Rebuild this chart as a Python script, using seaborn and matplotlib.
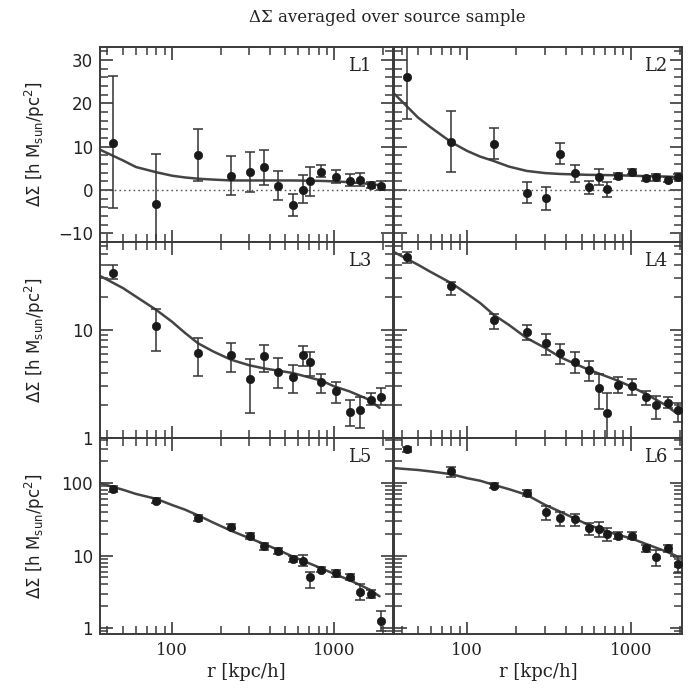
import numpy as np
import pandas as pd
import matplotlib
matplotlib.use("Agg")
import matplotlib.pyplot as plt
import seaborn as sns
from matplotlib.ticker import LogLocator, MultipleLocator, FuncFormatter, NullFormatter

# ---------------- data ----------------
radii = [43, 80, 145, 231, 303, 371, 453, 553, 641, 711, 832, 1024, 1244, 1433, 1692, 1950]

y_L1 = [10.8, -3.2, 8.0, 3.3, 4.2, 5.2, 1.0, -3.4, 0.1, 2.1, 4.1, 3.1, 2.0, 2.2, 1.2, 1.0]
hi_L1 = [26.4, 8.3, 14.0, 7.9, 8.8, 9.3, 4.3, -0.9, 3.4, 5.2, 5.7, 4.7, 3.7, 3.9, 1.8, 2.1]
lo_L1 = [-4.2, -14.7, 2.1, -1.15, -0.4, 1.2, -2.3, -5.9, -3.1, -1.3, 2.9, 1.6, 1.0, 1.0, 0.4, 0.1]

y_L2 = [26.1, 11.1, 10.7, -0.7, -1.9, 8.4, 3.9, 0.8, 3.1, 0.2, 3.3, 4.2, 2.7, 2.9, 2.4, 3.1]
hi_L2 = [35.9, 18.2, 14.4, 1.9, 0.8, 10.8, 5.8, 2.1, 4.8, 1.9, 4.0, 4.8, 3.3, 3.7, 2.9, 3.6]
lo_L2 = [16.3, 4.1, 7.1, -3.1, -4.6, 6.0, 1.8, -0.9, 1.2, -1.5, 2.6, 3.6, 2.1, 2.1, 1.9, 2.6]

y_L3 = [33.5, 10.9, 6.1, 5.9, 3.5, 5.7, 4.1, 3.7, 5.9, 5.0, 3.3, 2.7, 1.75, 1.8, 2.25, 2.4]
hi_L3 = [40, 15.5, 8.4, 7.5, 5.4, 7.2, 5.5, 4.7, 7.1, 6.2, 3.9, 3.3, 2.25, 2.4, 2.6, 2.9]
lo_L3 = [29.5, 6.4, 3.75, 4.1, 1.7, 4.1, 2.9, 2.6, 4.6, 3.75, 2.6, 2.1, 1.3, 1.23, 2.0, 2.0]

y_L4 = [47, 25.2, 12.4, 9.5, 7.5, 6.1, 5.1, 4.3, 2.9, 1.7, 3.1, 3.0, 2.4, 2.0, 2.1, 1.8]
hi_L4 = [52, 28, 14.1, 11.1, 9.2, 7.4, 6.2, 5.2, 3.9, 2.6, 3.7, 3.5, 2.7, 2.45, 2.4, 2.1]
lo_L4 = [42, 20.8, 10.2, 8.0, 5.9, 4.8, 4.0, 3.4, 1.86, 0.8, 2.6, 2.5, 2.0, 1.5, 1.9, 1.4]

y_L5 = [83, 57.5, 32.9, 25.2, 18.8, 13.4, 11.6, 9.0, 8.5, 5.05, 6.4, 5.7, 5.15, 3.2, 2.97, 1.26]
hi_L5 = [92, 62, 36, 27.5, 20.8, 14.9, 12.9, 10.0, 10.3, 6.0, 6.9, 6.3, 5.65, 4.0, 3.35, 1.75]
lo_L5 = [75, 53, 30, 23, 17, 12, 10.4, 8.1, 7.1, 3.6, 5.9, 5.1, 4.65, 2.45, 2.6, 0.9]

y_L6 = [294, 145, 92.7, 72.8, 39.8, 33.6, 31.9, 23.9, 23.4, 19.8, 18.9, 18.8, 12.7, 9.7, 12.7, 7.7]
hi_L6 = [320, 169, 101, 80, 48.6, 40.6, 37.7, 28.6, 29.5, 24, 21, 20.9, 14.2, 12.0, 14.0, 9.7]
lo_L6 = [270, 123, 85, 66, 31.2, 25.8, 25.8, 19.4, 18.3, 16.1, 16.9, 16.8, 11.3, 7.2, 11.4, 5.8]

model_r = [36, 50, 60, 80, 100, 120, 145, 180, 231, 300, 370, 450, 550, 830, 1000, 1240, 1650, 1900]
model_L1 = [9.3, 6.8, 5.3, 4.1, 3.3, 2.9, 2.6, 2.4, 2.2, 2.2, 2.2, 2.2, 2.2, 2.1, 2.0, 1.8, 1.4, 1.1]
model_L2 = [22.1, 16.7, 14.4, 11.0, 9.0, 7.7, 6.7, 5.4, 4.4, 3.9, 3.7, 3.6, 3.5, 3.4, 3.3, 3.2, 3.1, 3.0]
model_L3 = [31.6, 24.3, 20.3, 15.3, 11.9, 9.4, 7.5, 6.3, 5.3, 4.7, 4.4, 4.2, 4.0, 3.4, 3.0, 2.7, 2.25, 1.9]
model_L4 = [52, 40, 34.2, 27, 21.5, 17.7, 13.8, 11.1, 8.4, 6.8, 5.6, 4.9, 4.3, 3.4, 3.0, 2.55, 2.0, 1.7]
model_L5 = [100, 81, 71, 60.7, 50, 43.2, 35.9, 28.5, 22.1, 17.4, 14.5, 12.0, 9.8, 6.7, 5.6, 4.6, 3.4, 2.75]
model_L6 = [161, 152, 145, 133, 117, 108, 94.8, 82.6, 69, 50, 40.5, 32.9, 26.6, 19.4, 17.4, 14.5, 11.4, 9.9]

panel_names = ["L1", "L2", "L3", "L4", "L5", "L6"]
title_text = "ΔΣ averaged over source sample"
ylabel_text = r"ΔΣ [h M$_{\rm sun}$/pc$^2$]"
xlabel_text = "r [kpc/h]"

# ---------------- style ----------------
sns.set_theme(style="ticks")
plt.rcParams["font.family"] = ["DejaVu Sans"]
plt.rcParams["mathtext.default"] = "regular"
AX = "#3a3a3a"
INK = "#1a1a1a"

fig = plt.figure(figsize=(6.91, 6.88), dpi=100)
W, H = 691.0, 688.0

cols = [(100, 393, (36, 2300)), (394, 682, (35.6, 2060))]
rows = [(47, 242), (242, 438), (438, 634)]

panels = [
    (y_L1, lo_L1, hi_L1, model_L1),
    (y_L2, lo_L2, hi_L2, model_L2),
    (y_L3, lo_L3, hi_L3, model_L3),
    (y_L4, lo_L4, hi_L4, model_L4),
    (y_L5, lo_L5, hi_L5, model_L5),
    (y_L6, lo_L6, hi_L6, model_L6),
]

serif = "DejaVu Serif"

for i, (yv, lo, hi, mod) in enumerate(panels):
    r_i, c_i = divmod(i, 2)
    x0, x1, xlim = cols[c_i]
    ytop, ybot = rows[r_i]
    ax = fig.add_axes([x0 / W, 1 - ybot / H, (x1 - x0) / W, (ybot - ytop) / H])
    ax.set_xscale("log")
    if r_i > 0:
        ax.set_yscale("log")

    yv = np.array(yv, float)
    lo = np.array(lo, float)
    hi = np.array(hi, float)
    df = pd.DataFrame({"r": radii, "y": yv})
    mdf = pd.DataFrame({"r": model_r, "m": mod})

    if r_i == 0:
        ax.axhline(0, color="#555555", lw=1.0, ls=(0, (1.2, 2.2)), zorder=1)

    sns.lineplot(data=mdf, x="r", y="m", ax=ax, color="#444444", lw=1.8, zorder=2)
    ax.errorbar(df["r"], df["y"], yerr=[yv - lo, hi - yv], fmt="none",
                ecolor="#333333", elinewidth=1.1, capsize=3.5, capthick=1.1, zorder=3)
    sns.scatterplot(data=df, x="r", y="y", ax=ax, color=INK, s=36,
                    edgecolor=INK, linewidth=0.5, zorder=4)

    ax.set_xlim(*xlim)
    if r_i == 0:
        ax.set_ylim(-12, 33)
        ax.yaxis.set_major_locator(MultipleLocator(10))
        ax.yaxis.set_minor_locator(MultipleLocator(2))
        ax.yaxis.set_major_formatter(FuncFormatter(lambda v, p: f"{v:g}".replace("-", "\u2212")))
    else:
        if r_i == 1:
            ax.set_ylim(1, 65)
        else:
            ax.set_ylim(0.83, 420)
        ax.yaxis.set_major_locator(LogLocator(base=10, numticks=10))
        ax.yaxis.set_minor_locator(LogLocator(base=10, subs=np.arange(2, 10), numticks=20))
        ax.yaxis.set_major_formatter(FuncFormatter(lambda v, p: f"{v:g}"))
        ax.yaxis.set_minor_formatter(NullFormatter())

    ax.xaxis.set_major_locator(LogLocator(base=10, numticks=10))
    ax.xaxis.set_minor_locator(LogLocator(base=10, subs=np.arange(2, 10), numticks=20))
    ax.xaxis.set_major_formatter(FuncFormatter(lambda v, p: f"{v:g}"))
    ax.xaxis.set_minor_formatter(NullFormatter())

    ax.tick_params(which="both", direction="in", top=True, right=True, color=AX)
    ax.tick_params(which="major", length=9, width=1.2)
    ax.tick_params(which="minor", length=5.5, width=1.1)
    ax.tick_params(axis="y", labelsize=12, labelcolor="#222222", pad=5)
    ax.tick_params(axis="x", labelsize=12, labelcolor="#222222", pad=6)
    for lab in ax.get_xticklabels():
        lab.set_fontfamily(serif)

    if c_i == 1:
        ax.tick_params(axis="y", labelleft=False)
    if r_i < 2:
        ax.tick_params(axis="x", labelbottom=False)
    ax.set_xlabel("")
    ax.set_ylabel("")
    for s in ax.spines.values():
        s.set_color(AX)
        s.set_linewidth(1.4)

    tx = 0.925 if c_i == 0 else 0.948
    ax.text(tx, 0.905, panel_names[i], transform=ax.transAxes, ha="right", va="center",
            fontsize=13, family=serif, color="#222222")

    if c_i == 0:
        fig.text(35 / W, 1 - ((ytop + ybot) / 2) / H, ylabel_text, rotation=90,
                 ha="center", va="center", fontsize=12, color="#222222")
    if r_i == 2:
        fig.text(((x0 + x1) / 2) / W, 1 - 672 / H, xlabel_text, ha="center", va="center",
                 fontsize=13, family=serif, color="#222222")

fig.text(387 / W, 1 - 17 / H, title_text, ha="center", va="center",
         fontsize=12, family=serif, color="#222222")

fig.savefig("out.png", dpi=100)
